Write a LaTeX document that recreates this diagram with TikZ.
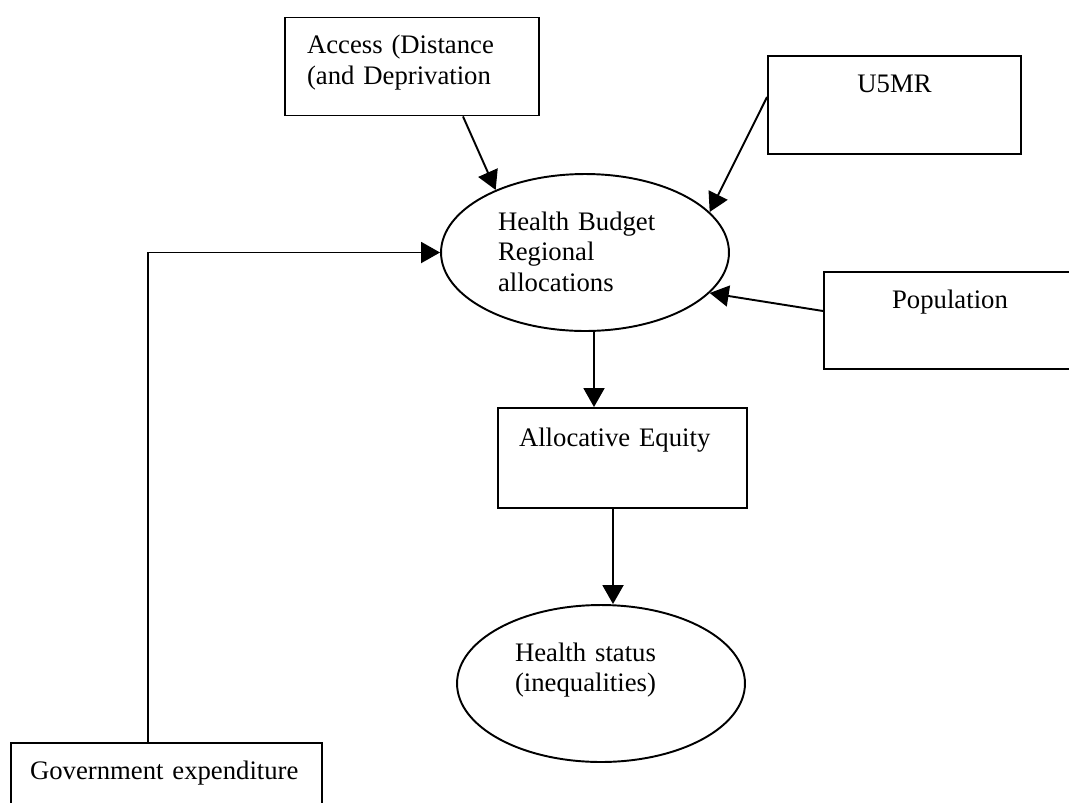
\documentclass[tikz,border=0pt]{standalone}
\usepackage{fontspec}
\setmainfont{Liberation Serif}
\usepackage{tikz}
\usetikzlibrary{arrows.meta,shapes.geometric}
\tikzset{
  factor/.style = {draw, rectangle, line width=1.1pt, align=left,
    inner xsep=0.44cm, inner ysep=0pt,
    text height=0.72cm, text depth=1.24cm},
  outcome/.style = {draw, ellipse, line width=1.1pt, align=left,
    inner sep=0pt, minimum width=5.76cm, minimum height=3.14cm,
    text height=0.38cm, text depth=1.28cm}
}

\begin{document}
\begin{tikzpicture}[x=0.02cm,y=-0.02cm,->,>={Triangle[length=0.38cm,width=0.42cm]},
    line width=1.1pt,font=\fontsize{15.2}{17.4}\selectfont]
    \useasboundingbox (0,0) rectangle (1069,802);
    % boxes
    \node[factor, text width=4.2cm] (access) at (412,66.5) {Access (Distance\\(and Deprivation};
    \node[factor, align=center, text width=4.18cm] (u5mr) at (894.5,105) {U5MR};
    \node[factor, align=center, text width=4.16cm, text depth=1.22cm] (pop) at (950,320.5) {Population};
    \node[factor, inner xsep=0.42cm, text width=4.14cm, text height=0.76cm] (alloc) at (622.5,458) {Allocative Equity};
    \node[factor, inner xsep=0.38cm, text width=5.46cm] (gov) at (166.5,792) {Government expenditure};
    % ellipses
    \node[outcome, text width=3.48cm] (budget) at (585,252.5) {Health Budget\\Regional\\allocations};
    \node[outcome, text width=3.44cm] (status) at (601,683.5) {Health status\\(inequalities)};

    \draw (access.south -| 463,0) -- (budget.145);
    \draw (u5mr.west |- 0,97) -- (budget.18);
    \draw (pop.west |- 0,311) -- (budget.-18);
    \draw (gov.north -| 148,0) |- (budget.west);
    \draw (budget.south -| 594,0) -- (alloc.north -| 594,0);
    \draw (alloc.south -| 613,0) -- (status.north -| 613,0);
  \end{tikzpicture}
\end{document}
